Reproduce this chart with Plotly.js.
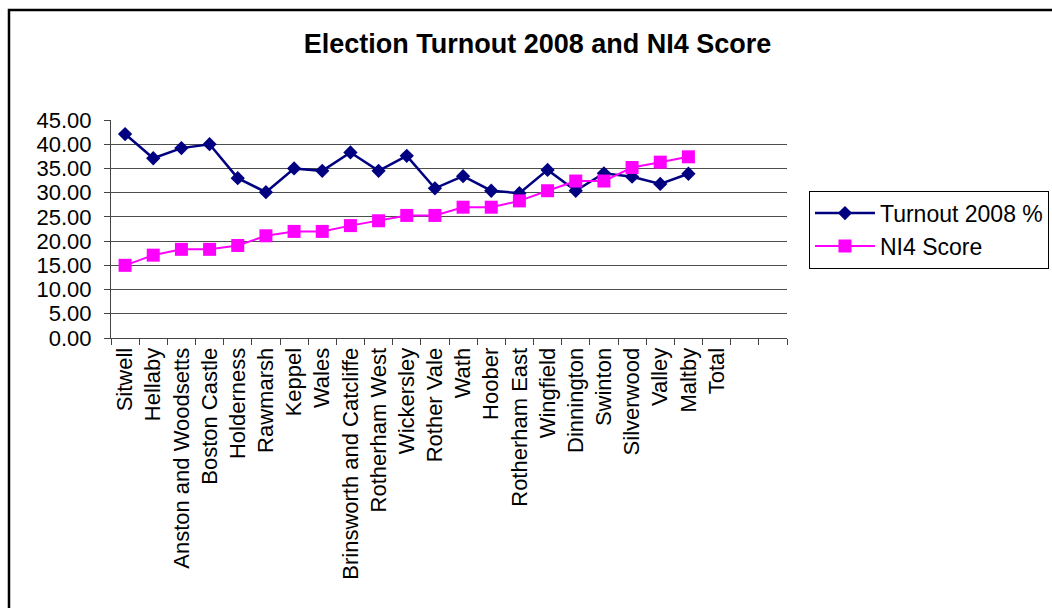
<!DOCTYPE html>
<html>
<head>
<meta charset="utf-8">
<script src="https://cdn.plot.ly/plotly-3.0.1.min.js"></script>
<style>
  html, body { margin: 0; padding: 0; background: #ffffff; }
  #chart { width: 1052px; height: 608px; }
</style>
</head>
<body>
<div id="chart"></div>
<script>
// Ward names, in the order they appear along the axis
const wards = [
  "Sitwell", "Hellaby", "Anston and Woodsetts", "Boston Castle", "Holderness",
  "Rawmarsh", "Keppel", "Wales", "Brinsworth and Catcliffe", "Rotherham West",
  "Wickersley", "Rother Vale", "Wath", "Hoober", "Rotherham East",
  "Wingfield", "Dinnington", "Swinton", "Silverwood", "Valley", "Maltby"
];

// Axis slots: the wards, the (empty) Total column and two spare columns
const axisCategories = wards.concat(["Total", " ", "  "]);

// Election turnout 2008 (%)
const turnout = [
  42.1, 37.1, 39.2, 40.0, 33.0,
  30.1, 35.0, 34.5, 38.3, 34.5,
  37.6, 30.9, 33.4, 30.4, 29.9,
  34.7, 30.4, 34.0, 33.3, 31.8, 33.9
];

// NI4 score
const ni4Score = [
  15.0, 17.1, 18.3, 18.3, 19.1,
  21.1, 22.0, 22.0, 23.2, 24.2,
  25.3, 25.3, 27.0, 27.0, 28.3,
  30.4, 32.4, 32.4, 35.2, 36.3, 37.4
];

const yMax = 45;
const yStep = 5;
// horizontal gridlines sit on every step inside the range, not on its ends
const gridValues = [];
for (let v = yStep; v < yMax; v += yStep) gridValues.push(v);

const fontFamily = "Liberation Sans, Arial, Helvetica, sans-serif";

const traces = [
  {
    type: "scatter",
    mode: "lines+markers",
    name: "Turnout 2008 %",
    x: wards,
    y: turnout,
    xaxis: "x",
    yaxis: "y",
    line: { color: "#000080", width: 2.5 },
    marker: { symbol: "diamond", size: 11, color: "#000080" },
    hoverinfo: "x+y"
  },
  {
    type: "scatter",
    mode: "lines+markers",
    name: "NI4 Score",
    x: wards,
    y: ni4Score,
    xaxis: "x",
    yaxis: "y2",
    line: { color: "#FF00FF", width: 2 },
    marker: { symbol: "square", size: 13, color: "#FF00FF" },
    hoverinfo: "x+y"
  }
];

const layout = {
  width: 1052,
  height: 608,
  margin: { l: 111, r: 265, t: 120, b: 270, pad: 0, autoexpand: false },
  paper_bgcolor: "#ffffff",
  plot_bgcolor: "#ffffff",
  font: { family: fontFamily, size: 22, color: "#000000" },
  showlegend: true,
  title: {
    text: "Election Turnout 2008 and NI4 Score",
    font: { family: fontFamily, size: 27, weight: 700, color: "#000000" },
    xref: "container",
    yref: "container",
    x: 0.511,
    y: 0.9276,
    xanchor: "center",
    yanchor: "middle"
  },
  xaxis: {
    type: "category",
    categoryorder: "array",
    categoryarray: axisCategories,
    range: [-0.5, axisCategories.length - 0.5],
    tickson: "boundaries",
    ticks: "outside",
    ticklen: 6,
    tickwidth: 1,
    tickcolor: "#444444",
    tickangle: -90,
    tickfont: { family: fontFamily, size: 22, color: "#000000" },
    showline: true,
    linecolor: "#444444",
    linewidth: 1,
    showgrid: false,
    zeroline: false,
    fixedrange: true
  },
  yaxis: {
    range: [0, yMax],
    tick0: 0,
    dtick: yStep,
    tickformat: ".2f",
    ticks: "outside",
    ticklen: 6,
    tickwidth: 1,
    tickcolor: "#444444",
    ticklabelstandoff: 8,
    tickfont: { family: fontFamily, size: 22, color: "#000000" },
    showline: true,
    linecolor: "#444444",
    linewidth: 1,
    showgrid: false,
    zeroline: false,
    fixedrange: true
  },
  yaxis2: {
    overlaying: "y",
    side: "left",
    range: [0, yMax],
    tickmode: "array",
    tickvals: gridValues,
    showticklabels: false,
    ticks: "",
    showline: false,
    showgrid: true,
    gridcolor: "#4d4d4d",
    gridwidth: 1,
    zeroline: false,
    fixedrange: true
  },
  legend: {
    x: 1.0325,
    y: 0.676,
    xanchor: "left",
    yanchor: "top",
    bgcolor: "#ffffff",
    bordercolor: "#000000",
    borderwidth: 1,
    itemwidth: 60,
    entrywidth: 260,
    tracegroupgap: 0,
    font: { family: fontFamily, size: 23, color: "#000000" }
  },
  shapes: [
    {
      // chart frame
      type: "rect",
      xref: "paper",
      yref: "paper",
      x0: -0.1509,
      x1: 2,
      y0: -2,
      y1: 1.5046,
      line: { color: "#000000", width: 2.5 },
      fillcolor: "rgba(0,0,0,0)",
      layer: "below"
    }
  ]
};

Plotly.newPlot("chart", traces, layout, { displayModeBar: false, staticPlot: true });
</script>
</body>
</html>
